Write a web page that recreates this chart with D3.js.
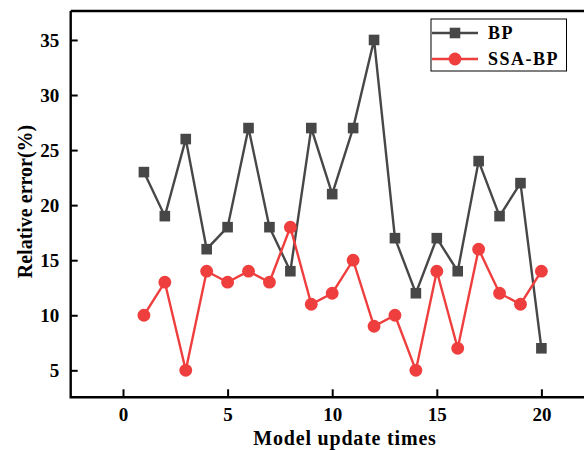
<!DOCTYPE html>
<html><head><meta charset="utf-8">
<script src="https://cdn.jsdelivr.net/npm/d3@7"></script>
<style>body{margin:0;background:#fff}svg{display:block}</style>
</head><body>
<script>
const updates = d3.range(1, 21);
const bpValues = [23,19,26,16,18,27,18,14,27,21,27,35,17,12,17,14,24,19,22,7];
const ssaValues = [10,13,5,14,13,14,13,18,11,12,15,9,10,5,14,7,16,12,11,14];
const xTicks = [0,5,10,15,20];
const yTicks = [5,10,15,20,25,30,35];
const seriesNames = ["BP","SSA-BP"];
const colors = ["#474747","#ef3e3e"];

const W = 584, H = 450;
const svg = d3.select("body").append("svg").attr("width", W).attr("height", H);
const mLeft = 70.7, mTop = 11, mBottom = 397.3;
const x = d3.scaleLinear().domain([-2.5, 22.5]).range([mLeft, mLeft + 523]);
const y = d3.scaleLinear().domain([2.55, 37.63]).range([mBottom, mTop]);
const font = "'Liberation Serif','Times New Roman',serif";

const g = svg.append("g");
const series = [bpValues, ssaValues];
series.forEach((vals, si) => {
  const line = d3.line().x((d,i)=>x(updates[i])).y(d=>y(d));
  g.append("path").datum(vals).attr("d", line).attr("fill","none")
    .attr("stroke", colors[si]).attr("stroke-width", 2.4);
});
g.selectAll(".sq").data(bpValues).enter().append("rect")
  .attr("x",(d,i)=>x(updates[i])-5.3).attr("y",d=>y(d)-5.3)
  .attr("width",10.6).attr("height",10.6).attr("fill",colors[0]);
g.selectAll(".ci").data(ssaValues).enter().append("circle")
  .attr("cx",(d,i)=>x(updates[i])).attr("cy",d=>y(d)).attr("r",6.4).attr("fill",colors[1]);

const xAxis = d3.axisBottom(x).tickValues(xTicks).tickSize(-8).tickPadding(10);
const yAxis = d3.axisLeft(y).tickValues(yTicks).tickSize(-7).tickPadding(11.5);
const gx = svg.append("g").attr("transform",`translate(0,${mBottom})`).call(xAxis);
const gy = svg.append("g").attr("transform",`translate(${mLeft},0)`).call(yAxis);
[gx, gy].forEach(a => {
  a.select(".domain").remove();
  a.selectAll(".tick line").attr("stroke","#000").attr("stroke-width",2);
  a.selectAll(".tick text").attr("fill","#000").style("font-family",font)
   .style("font-weight","bold").style("font-size","19px");
});
svg.append("path").attr("d",`M${mLeft},${mTop}H${W+5}M${mLeft},${mTop}V${mBottom}H${W+5}`)
  .attr("fill","none").attr("stroke","#000").attr("stroke-width",2.4);

svg.append("text").attr("x", 345).attr("y", 445).attr("text-anchor","middle")
  .style("font-family",font).style("font-weight","bold").style("font-size","20px")
  .style("letter-spacing","0.8px")
  .text("Model update times");
svg.append("text").attr("transform","translate(32,201.5) rotate(-90)").attr("text-anchor","middle")
  .style("font-family",font).style("font-weight","bold").style("font-size","20px")
  .text("Relative error(%)");

const lg = svg.append("g");
lg.append("rect").attr("x",431).attr("y",19).attr("width",135.5).attr("height",52)
  .attr("fill","#fff").attr("stroke","#000").attr("stroke-width",1);
[33,59].forEach((ly,i)=>{
  lg.append("line").attr("x1",432).attr("x2",478).attr("y1",ly).attr("y2",ly)
    .attr("stroke",colors[i]).attr("stroke-width",2.4);
  if(i===0) lg.append("rect").attr("x",449.7).attr("y",ly-5.3).attr("width",10.6).attr("height",10.6).attr("fill",colors[0]);
  else lg.append("circle").attr("cx",455).attr("cy",ly).attr("r",6.4).attr("fill",colors[1]);
  lg.append("text").attr("x",488).attr("y",ly+6).style("font-family",font)
    .style("font-weight","bold").style("font-size","18px").style("letter-spacing","1.5px")
    .text(seriesNames[i]);
});
</script>
</body></html>
